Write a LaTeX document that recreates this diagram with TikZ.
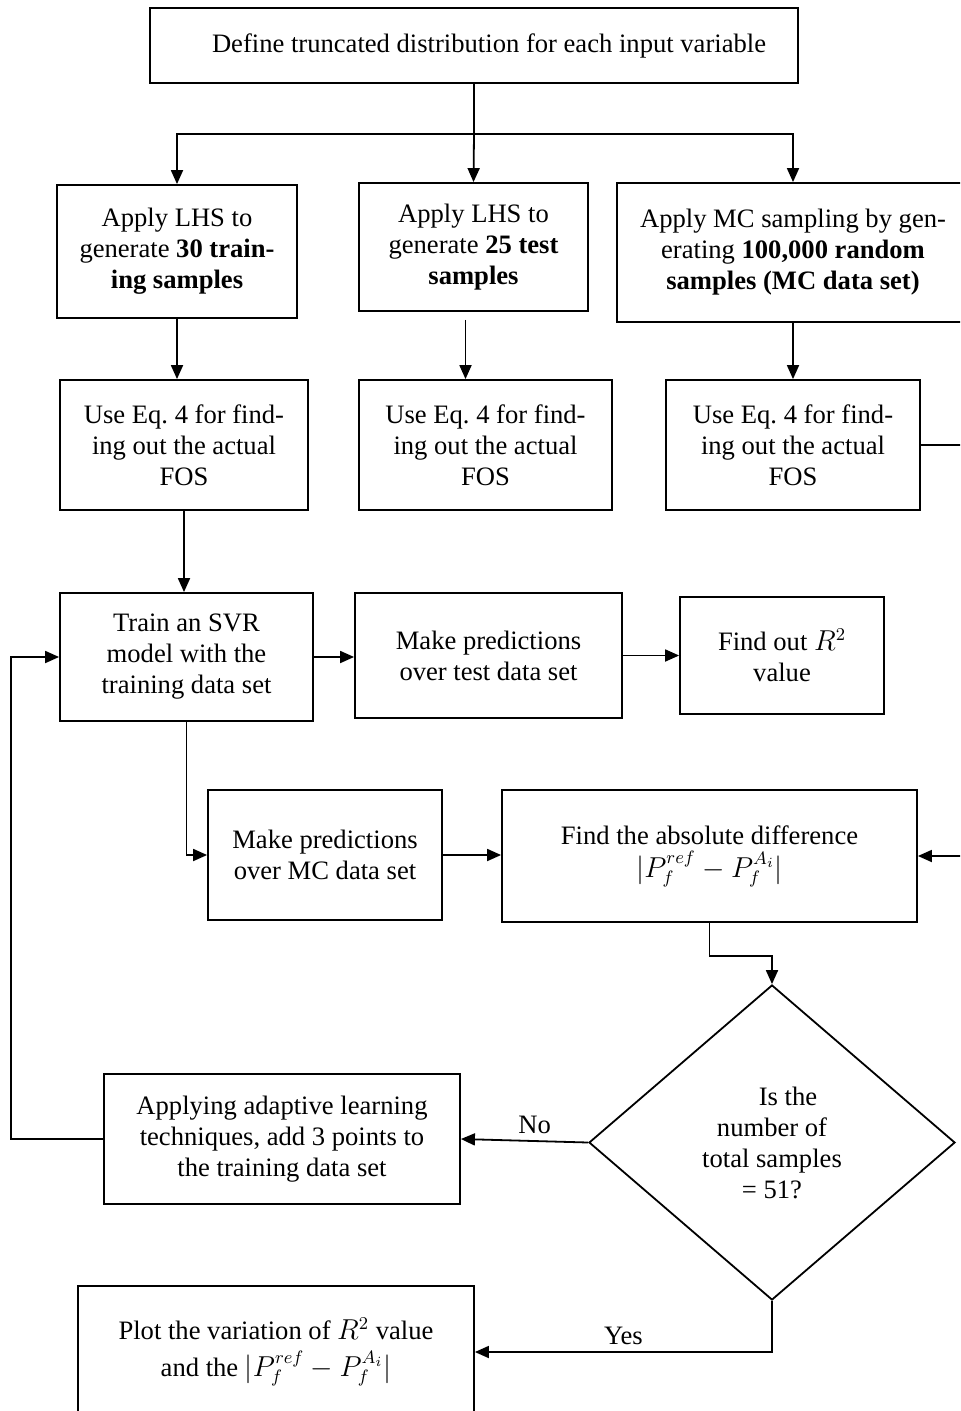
\documentclass[tikz,border=0pt]{standalone}
\usepackage{fontspec}
\setmainfont{Liberation Serif}
\usetikzlibrary{arrows.meta,shapes.geometric}

\begin{document}
\begin{tikzpicture}[x=0.5pt, y=-0.5pt, >={Triangle[length=7pt,width=6pt]},
  font=\fontsize{13.3}{15.5}\selectfont,
  box/.style={draw, line width=0.9pt, align=center, inner sep=1pt},
  flow/.style={->, line width=0.9pt}]
  \useasboundingbox (0,0) rectangle (960,1411);
  \clip (0,0) rectangle (960,1411);
  % sampling: one input definition feeds three sample sets
  \node[box, minimum width=324pt, minimum height=37.5pt] (define) at (474,45.5) {\hspace*{15pt}Define truncated distribution for each input variable};
  \node[box, minimum width=120pt, minimum height=66.5pt] (lhstrain) at (177,251.5) {Apply LHS to\\generate \textbf{30 train-}\\\textbf{ing samples}};
  \node[box, minimum width=114.5pt, minimum height=64pt] (lhstest) at (473.5,247) {Apply LHS to\\generate \textbf{25 test}\\\textbf{samples}};
  \node[box, minimum width=176pt, minimum height=69.5pt] (mc) at (793,252.5) {Apply MC sampling by gen-\\erating \textbf{100,000 random}\\\textbf{samples (MC data set)}};
  \coordinate (split) at (474,134);
  \draw[line width=0.9pt] (define.south) -- (split);
  \draw[flow] (split) -| (lhstrain.north);
  \draw[flow] (split) -- (lhstest.north);
  \draw[flow] (split) -| (mc.north);
  % actual FOS for each set
  \foreach \n/\x/\w in {fos1/184/124, fos2/485.5/126.5, fos3/793/127}
    \node[box, minimum width=\w pt, minimum height=65pt] (\n) at (\x,445) {Use Eq.~4 for find-\\ing out the actual\\FOS};
  \draw[flow] (lhstrain.south) -- (lhstrain.south |- fos1.north);
  \draw[flow] ([xshift=-4pt, yshift=-4pt]lhstest.south) -- ([xshift=-4pt]lhstest.south |- fos2.north);
  \draw[flow] (mc.south) -- (fos3.north);
  % surrogate model and its checks
  \node[box, minimum width=126.5pt, minimum height=64pt] (train) at (186.5,657) {Train an SVR\\model with the\\training data set};
  \node[box, minimum width=133.5pt, minimum height=62.5pt] (predtest) at (488.5,655.5) {Make predictions\\over test data set};
  \node[box, minimum width=102pt, minimum height=58.5pt] (findr2) at (782,655.5) {Find out $R^2$\\value};
  \node[box, minimum width=117pt, minimum height=65pt] (predmc) at (325,855) {Make predictions\\over MC data set};
  \node[box, minimum width=207.5pt, minimum height=66pt] (absdiff) at (709.5,856) {Find the absolute difference\\[1pt]$|P_f^{ref}-P_f^{A_i}|$};
  \draw[flow] (fos1.south) -- (fos1.south |- train.north);
  \draw[flow] (train.east) -- (train.east -| predtest.west);
  \draw[flow] (predtest.east) -- (predtest.east -| findr2.west);
  \draw[flow] (train.south) |- (predmc.west);
  \draw[flow] (predmc.east) -- (predmc.east -| absdiff.west);
  \draw[flow] (fos3.east) -- ++(55,0) |- (absdiff.east);
  % stopping rule and adaptive loop
  \node[draw, diamond, line width=0.9pt, align=center, inner sep=0pt, minimum width=183pt, minimum height=157.5pt] (check) at (772,1142.5) {\hspace{1.2em}Is the\\number of\\total samples\\= 51?};
  \node[box, minimum width=178pt, minimum height=65pt] (adapt) at (282,1139) {Applying adaptive learning\\techniques, add 3 points to\\the training data set};
  \node[box, minimum width=198pt, minimum height=66pt] (plot) at (276,1352) {Plot the variation of $R^2$ value\\[3pt]and the $|P_f^{ref}-P_f^{A_i}|$};
  \draw[flow] (absdiff.south) -- ++(0,33) -| (check.north);
  \draw[flow] (check.west) -- node[above, pos=0.42] {No} (adapt.east);
  \draw[flow] (adapt.west) -- ++(-92,0) |- (train.west);
  \draw[flow] (check.south) |- node[above, pos=0.75] {Yes} (plot.east);
\end{tikzpicture}
\end{document}
